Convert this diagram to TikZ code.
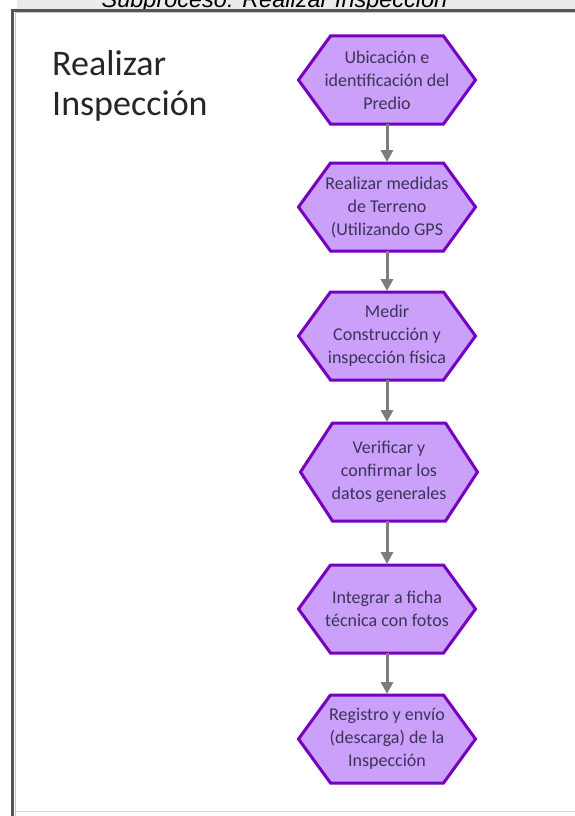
\documentclass[tikz,border=0pt]{standalone}
\usepackage{fontspec}
\setmainfont{Carlito}
\newfontfamily\titlefont{Liberation Sans}
\usetikzlibrary{arrows.meta}
\definecolor{hexfill}{RGB}{202,160,250}
\definecolor{hexdraw}{RGB}{118,0,190}
\definecolor{txtcol}{RGB}{58,52,88}
\definecolor{arrowgray}{RGB}{125,125,125}
\definecolor{framegray}{RGB}{85,85,85}
\definecolor{bandgray}{RGB}{235,235,235}
\pgfdeclarelayer{bgzero}
\pgfdeclarelayer{bgone}
\pgfsetlayers{bgzero,bgone,main}
\tikzset{
  hexbox/.style={draw=none, minimum width=177pt, inner sep=0pt, outer sep=0pt,
    align=center, text=txtcol, font=\fontsize{18}{23}\selectfont},
  hexline/.style={draw=hexdraw, fill=hexfill, line width=3pt, line join=miter},
  flow/.style={draw=arrowgray, line width=3pt, shorten >=1pt,
    -{Triangle[width=12pt,length=12pt]}},
  biglabel/.style={anchor=base west, inner sep=0pt, text=black!85,
    font=\fontsize{36}{40}\selectfont}
}
\newcommand\hexpath[1]{%
  \draw[hexline] (#1.west) -- ([xshift=32pt]#1.north west) -- ([xshift=-32pt]#1.north east)
    -- (#1.east) -- ([xshift=-32pt]#1.south east) -- ([xshift=32pt]#1.south west) -- cycle;}
\begin{document}
\begin{tikzpicture}[x=1pt,y=-1pt]
\useasboundingbox (0,0) rectangle (575,816);
\begin{pgfonlayer}{bgzero}
  \fill[white] (0,0) rectangle (575,816);
  \fill[bandgray] (17,0) rectangle (575,9);
  \draw[gray!30, line width=1pt] (14,811) -- (575,811);
  \draw[gray!45, line width=1pt] (15.5,816) -- (15.5,13) -- (575,13);
  \draw[framegray, line width=3.5pt] (12.5,816) -- (12.5,10.5) -- (575,10.5);
\end{pgfonlayer}
\begin{scope}
  \clip (0,0) rectangle (575,9);
  \node[font=\titlefont\itshape\fontsize{23.5}{28}\selectfont, anchor=base, inner sep=0pt] (title) at (274.5,7.5) {Subproceso: Realizar Inspección};
\end{scope}

\node[biglabel] (lab1) at (52,75) {Realizar};
\node[biglabel] (lab2) at (52,115) {Inspección};

\node[hexbox, minimum height=88pt] (n1) at (387,80) {Ubicación e\\identificación del\\Predio};
\node[hexbox, minimum height=88pt] (n2) at (387,207) {Realizar medidas\\de Terreno\\(Utilizando GPS};
\node[hexbox, minimum height=88pt] (n3) at (387,336) {Medir\\Construcción y\\inspección física};
\node[hexbox, minimum height=98pt] (n4) at (389,472) {Verificar y\\confirmar los\\datos generales};
\node[hexbox, minimum height=88pt] (n5) at (387,609) {Integrar a ficha\\técnica con fotos};
\node[hexbox, minimum height=88pt] (n6) at (387,739) {Registro y envío\\(descarga) de la\\Inspección};

\begin{pgfonlayer}{bgone}
  \foreach \n in {n1,n2,n3,n4,n5,n6} {\hexpath{\n}}
\end{pgfonlayer}

\draw[flow] (n1.south) -- (n2.north);
\draw[flow] (n2.south) -- (n3.north);
\draw[flow] (n3.south) -- (n4.north -| n3.south);
\draw[flow] (n4.south -| n5.north) -- (n5.north);
\draw[flow] (n5.south) -- (n6.north);
\end{tikzpicture}
\end{document}
